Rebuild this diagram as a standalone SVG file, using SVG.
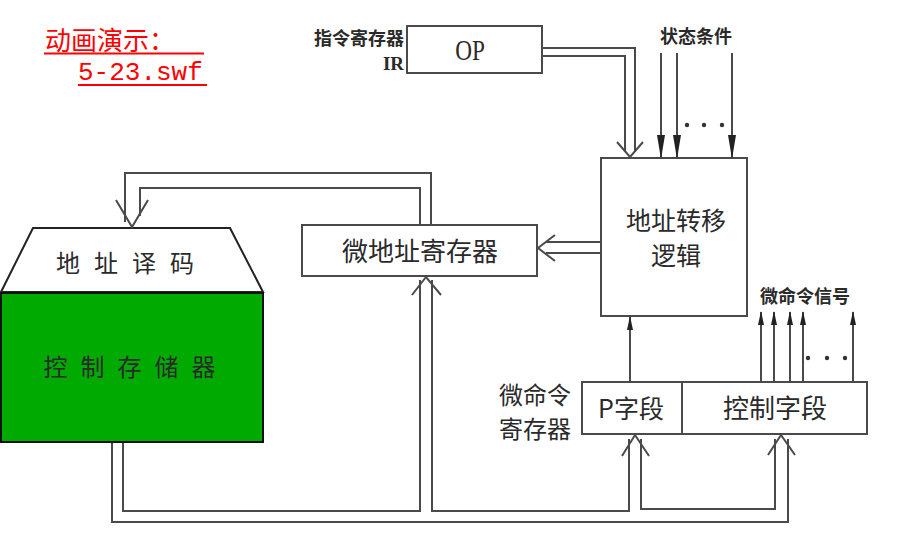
<svg xmlns="http://www.w3.org/2000/svg" width="899" height="534" viewBox="0 0 899 534">
<style>
.ln{fill:none;stroke:#4a4a4a;stroke-width:2}
.box{fill:#fff;stroke:#4a4a4a;stroke-width:2}
.cn{font-family:"Noto Sans CJK SC","Noto Sans",sans-serif;fill:#2a2a2a}
.sf{font-family:"Liberation Serif","Noto Sans CJK SC",serif;fill:#2a2a2a}
.red{fill:#f00}
.dot{fill:#333}
</style>
<defs>
<marker id="big" markerUnits="userSpaceOnUse" markerWidth="24" markerHeight="8" refX="23" refY="4" orient="auto"><path d="M0,0 L24,4 L0,8 z" fill="#222"/></marker>
<marker id="sm" markerUnits="userSpaceOnUse" markerWidth="14" markerHeight="6" refX="13" refY="3" orient="auto"><path d="M0,0 L14,3 L0,6 z" fill="#222"/></marker>
</defs>

<g id="title">
<text x="45" y="50" class="cn red" font-size="26">动画演示：</text>
<line x1="44" y1="53.5" x2="204" y2="53.5" stroke="#f00" stroke-width="2"/>
<text x="78" y="80" font-family="Liberation Mono, monospace" font-size="26" fill="#f00">5-23.swf</text>
<line x1="78" y1="85" x2="207" y2="85" stroke="#f00" stroke-width="2"/>
</g>

<g id="ir">
<rect x="407" y="26" width="135" height="47" class="box"/>
<text x="0" y="0" font-family="Liberation Serif, serif" font-size="29" fill="#2a2a2a" text-anchor="middle" transform="translate(470 60) scale(0.8 1)">OP</text>
<text x="404" y="45" class="cn" font-size="18" font-weight="bold" text-anchor="end">指令寄存器</text>
<text x="404" y="70" class="sf" font-size="19" font-weight="bold" text-anchor="end">IR</text>
</g>

<g id="status">
<text x="696" y="43" class="cn" font-size="18" font-weight="bold" text-anchor="middle">状态条件</text>
<circle cx="687" cy="125" r="2.2" class="dot"/>
<circle cx="704" cy="125" r="2.2" class="dot"/>
<circle cx="722" cy="125" r="2.2" class="dot"/>
</g>

<g id="logic">
<rect x="601" y="158" width="146" height="158" class="box"/>
<text x="676" y="230" class="cn" font-size="25" text-anchor="middle">地址转移</text>
<text x="676" y="265" class="cn" font-size="25" text-anchor="middle">逻辑</text>
</g>

<g id="uar">
<rect x="302" y="225" width="235" height="51" class="box"/>
<text x="420" y="261" class="cn" font-size="26" text-anchor="middle">微地址寄存器</text>
</g>

<g id="decoder">
<polygon points="33,228 230,228 263,292 1,292" fill="#fff" stroke="#222" stroke-width="2"/>
<text x="132" y="272" class="cn" font-size="24" text-anchor="middle" letter-spacing="14">地址译码</text>
</g>

<g id="cm">
<rect x="1" y="293" width="262" height="149" fill="#00aa00" stroke="#111" stroke-width="2"/>
<text x="136" y="376" class="cn" font-size="24" text-anchor="middle" letter-spacing="13" fill="#111">控制存储器</text>
</g>

<g id="mir">
<rect x="582" y="382" width="285" height="52" class="box"/>
<line x1="682" y1="382" x2="682" y2="434" class="ln"/>
<text x="631" y="418" class="cn" font-size="25" text-anchor="middle">P字段</text>
<text x="775" y="418" class="cn" font-size="26" text-anchor="middle">控制字段</text>
<text x="535" y="404" class="cn" font-size="24" text-anchor="middle">微命令</text>
<text x="535" y="438" class="cn" font-size="24" text-anchor="middle">寄存器</text>
</g>

<g id="signals">
<text x="805" y="303" class="cn" font-size="18" font-weight="bold" text-anchor="middle">微命令信号</text>
<circle cx="808" cy="358" r="2.2" class="dot"/>
<circle cx="827" cy="358" r="2.2" class="dot"/>
<circle cx="845" cy="358" r="2.2" class="dot"/>
</g>

<g id="connectors">
<polyline points="542,48 635,48 635,152" class="ln"/>
<polyline points="542,56 625,56 625,152" class="ln"/>
<polyline points="617,142 630,157 643,142" class="ln"/>

<line x1="661" y1="53" x2="661" y2="158" class="ln" marker-end="url(#big)"/>
<line x1="677" y1="53" x2="677" y2="158" class="ln" marker-end="url(#big)"/>
<line x1="732" y1="53" x2="732" y2="158" class="ln" marker-end="url(#big)"/>

<line x1="601" y1="242" x2="546" y2="242" class="ln"/>
<line x1="601" y1="253" x2="546" y2="253" class="ln"/>
<polyline points="555,235 538,248 555,261" class="ln"/>

<polyline points="431,225 431,173 125,173 125,222" class="ln"/>
<polyline points="420,225 420,188 140,188 140,216" class="ln"/>
<polyline points="116,200 132,227 148,200" class="ln"/>

<polyline points="123,443 123,511 420,511 420,280" class="ln"/>
<polyline points="432,280 432,511 629,511 629,439" class="ln"/>
<polyline points="412,295 426,277 441,295" class="ln"/>

<polyline points="641,439 641,509 775,509 775,439" class="ln"/>
<polyline points="622,456 635,435 649,456" class="ln"/>

<polyline points="112,443 112,522 788,522 788,439" class="ln"/>
<polyline points="768,455 781,435 795,455" class="ln"/>

<line x1="630" y1="382" x2="630" y2="317" class="ln" marker-end="url(#sm)"/>

<line x1="761" y1="382" x2="761" y2="312" class="ln" marker-end="url(#sm)"/>
<line x1="774" y1="382" x2="774" y2="312" class="ln" marker-end="url(#sm)"/>
<line x1="790" y1="382" x2="790" y2="312" class="ln" marker-end="url(#sm)"/>
<line x1="803" y1="382" x2="803" y2="312" class="ln" marker-end="url(#sm)"/>
<line x1="853" y1="382" x2="853" y2="312" class="ln" marker-end="url(#sm)"/>
</g>
</svg>
